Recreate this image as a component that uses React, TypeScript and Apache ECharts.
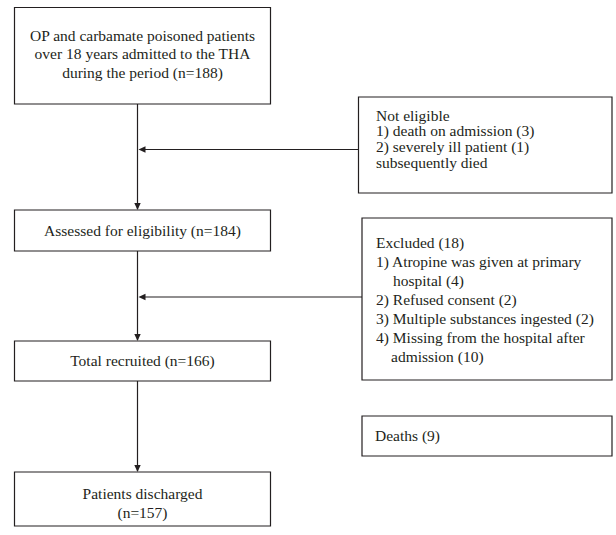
import React, { useEffect, useRef } from "react";
import * as echarts from "echarts";

// ---- Data (texts of the flowchart) ----
const mainLabels: string[][] = [
  ["OP and carbamate poisoned patients", "over 18 years admitted to the THA", "during the period (n=188)"],
  ["Assessed for eligibility (n=184)"],
  ["Total recruited (n=166)"],
  ["Patients discharged", "(n=157)"],
];
const notEligibleLines: string[] = [
  "Not eligible",
  "1) death on admission (3)",
  "2) severely ill patient (1)",
  "subsequently died",
];
const excludedLines: string[] = [
  "Excluded (18)",
  "1) Atropine was given at primary",
  "hospital (4)",
  "2) Refused consent (2)",
  "3) Multiple substances ingested (2)",
  "4) Missing from the hospital after",
  "admission (10)",
];
const deathLines: string[] = ["Deaths (9)"];

// ---- Layout ----
const FONT = '"Liberation Serif", "DejaVu Serif", serif';
const FS = 15.5;
const INK = "#231f20";
const LW = 1.2;
const colX = 137.5;
const mainBoxes = [
  { x: 14.5, y: 7.5, w: 256, h: 96.5, lineYs: [35, 53.5, 72] },
  { x: 14.5, y: 210, w: 256, h: 41, lineYs: [230] },
  { x: 14.5, y: 341, w: 256, h: 40, lineYs: [360] },
  { x: 14.5, y: 472, w: 256, h: 54, lineYs: [493, 512] },
];
const sideBoxes = [
  { x: 358.5, y: 97, w: 253.5, h: 96, tx: 376, y0: 115, lh: 15.7, indents: [0, 0, 0, 0], lines: notEligibleLines, arrowY: 149.5 },
  { x: 362, y: 218, w: 250, h: 162, tx: 376, y0: 242, lh: 19.1, indents: [0, 0, 17, 0, 0, 0, 15], lines: excludedLines, arrowY: 297 },
  { x: 362, y: 416, w: 250, h: 40, tx: 375, y0: 435, lh: 19, indents: [0], lines: deathLines, arrowY: null as number | null },
];

function rect(x: number, y: number, w: number, h: number) {
  return {
    type: "rect",
    shape: { x, y, width: w, height: h },
    style: { fill: "#fff", stroke: INK, lineWidth: LW },
  };
}
function line(x1: number, y1: number, x2: number, y2: number) {
  return {
    type: "line",
    shape: { x1, y1, x2, y2 },
    style: { stroke: INK, lineWidth: LW },
  };
}
function text(t: string, x: number, y: number, align: string) {
  return {
    type: "text",
    x,
    y,
    style: {
      text: t,
      fontFamily: FONT,
      fontSize: FS,
      fill: INK,
      align,
      verticalAlign: "middle",
    },
  };
}
function arrowDown(x: number, yTip: number) {
  return {
    type: "polygon",
    shape: { points: [[x - 3.2, yTip - 7], [x + 3.2, yTip - 7], [x, yTip]] },
    style: { fill: INK },
  };
}
function arrowLeft(xTip: number, y: number) {
  return {
    type: "polygon",
    shape: { points: [[xTip + 7, y - 3.2], [xTip + 7, y + 3.2], [xTip, y]] },
    style: { fill: INK },
  };
}

export default function App() {
  const ref = useRef<HTMLDivElement>(null);
  useEffect(() => {
    if (!ref.current) return;
    const chart = echarts.init(ref.current, undefined, { renderer: "svg" });
    const els: any[] = [];
    // vertical connectors
    for (let i = 0; i < mainBoxes.length - 1; i++) {
      const a = mainBoxes[i];
      const b = mainBoxes[i + 1];
      els.push(line(colX, a.y + a.h, colX, b.y - 1));
      els.push(arrowDown(colX, b.y));
    }
    // main boxes
    mainBoxes.forEach((b, i) => {
      els.push(rect(b.x, b.y, b.w, b.h));
      mainLabels[i].forEach((t, j) => {
        els.push(text(t, b.x + b.w / 2, b.lineYs[j], "center"));
      });
    });
    // side boxes
    sideBoxes.forEach((s) => {
      els.push(rect(s.x, s.y, s.w, s.h));
      s.lines.forEach((t, j) => {
        els.push(text(t, s.tx + (s.indents[j] || 0), s.y0 + j * s.lh, "left"));
      });
      if (s.arrowY !== null) {
        els.push(line(s.x, s.arrowY, colX + 5, s.arrowY));
        els.push(arrowLeft(colX + 1, s.arrowY));
      }
    });
    chart.setOption({
      animation: false,
      backgroundColor: "#ffffff",
      graphic: { elements: els },
    });
    return () => chart.dispose();
  }, []);
  return (
    <div
      ref={ref}
      style={{ position: "fixed", left: 0, top: 0, width: 616, height: 535, background: "#fff" }}
    />
  );
}
